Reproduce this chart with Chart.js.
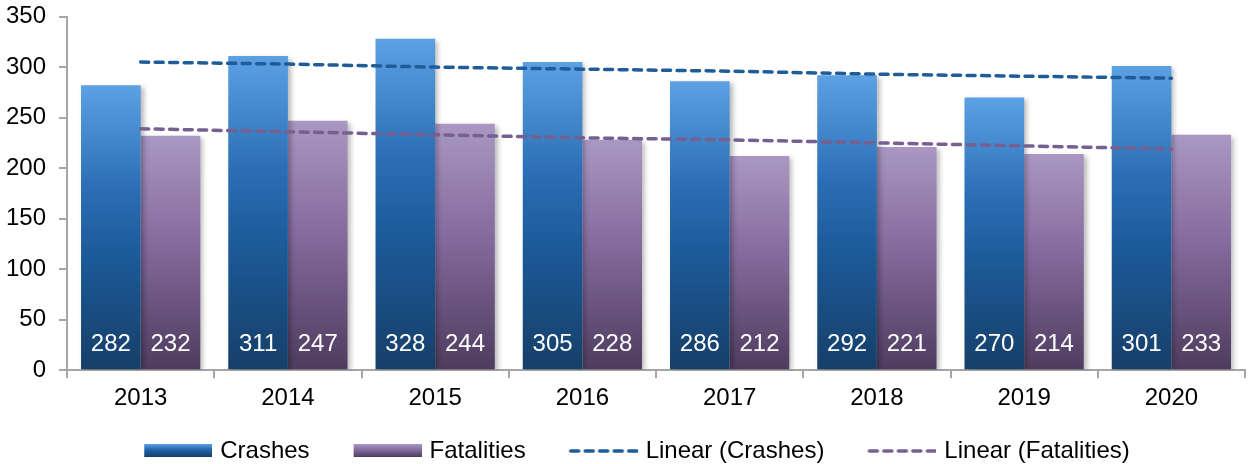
<!DOCTYPE html>
<html>
<head>
<meta charset="utf-8">
<script src="https://cdn.jsdelivr.net/npm/chart.js@4.4.0/dist/chart.umd.min.js"></script>
<style>
  html, body { margin: 0; padding: 0; background: #fff; }
  #wrap { width: 1249px; height: 464px; }
</style>
</head>
<body>
<div id="wrap"><canvas id="grafica"></canvas></div>
<script>
var anios = ["2013", "2014", "2015", "2016", "2017", "2018", "2019", "2020"]
var choques = [282, 311, 328, 305, 286, 292, 270, 301]
var muertes = [232, 247, 244, 228, 212, 221, 214, 233]
// linear trend lines
var tendenciaChoques = [305, 303, 300, 298, 296, 293, 291, 289]
var tendenciaMuertes = [239, 236, 233, 230, 228, 225, 222, 219]
var ticksY = [0, 50, 100, 150, 200, 250, 300, 350]

var fuente = "'Liberation Sans', Arial, sans-serif"
var colorEje = "#A6A6A6"

var paradasAzul = [[0, "#5CA1E4"], [0.35, "#2C6FB6"], [0.6, "#1C5A99"], [1, "#163F68"]]
var paradasMorado = [[0, "#AA97C3"], [0.45, "#856B9E"], [1, "#4E3C5E"]]

function gradienteBarra(paradas) {
    return function (context) {
        var chart = context.chart
        if (!chart.chartArea || context.type !== "data") return paradas[1][1]
        var y = chart.scales.y
        var top = y.getPixelForValue(context.raw)
        var base = y.getPixelForValue(0)
        var g = chart.ctx.createLinearGradient(0, top, 0, base)
        paradas.forEach(function (p) { g.addColorStop(p[0], p[1]) })
        return g
    }
}

// small canvases used as legend symbols
function cajaLeyenda(paradas) {
    var c = document.createElement("canvas")
    c.width = 96; c.height = 14
    var cx = c.getContext("2d")
    var g = cx.createLinearGradient(0, 0, 0, 13)
    paradas.forEach(function (p) { g.addColorStop(p[0], p[1]) })
    cx.fillStyle = g
    cx.fillRect(28, 0, 68, 13)
    return c
}

function lineaLeyenda(color) {
    var c = document.createElement("canvas")
    c.width = 96; c.height = 14
    var cx = c.getContext("2d")
    cx.strokeStyle = color
    cx.lineWidth = 3.5
    cx.lineCap = "round"
    cx.setLineDash([8, 6.5])
    cx.beginPath()
    cx.moveTo(29, 7)
    cx.lineTo(96, 7)
    cx.stroke()
    return c
}

var simbolos = [cajaLeyenda(paradasAzul), cajaLeyenda(paradasMorado), lineaLeyenda("#1F5C99"), lineaLeyenda("#76608F")]

var sombraBarras = {
    id: "sombraBarras",
    beforeDatasetDraw: function (chart, args) {
        if (args.meta.type === "bar") {
            chart.ctx.save()
            chart.ctx.shadowColor = "rgba(0,0,0,0.28)"
            chart.ctx.shadowBlur = 5
            chart.ctx.shadowOffsetX = 3
            chart.ctx.shadowOffsetY = 2
        }
    },
    afterDatasetDraw: function (chart, args) {
        if (args.meta.type === "bar") chart.ctx.restore()
    }
}

// nudge the legend a few pixels to the right, like the original
var moverLeyenda = {
    id: "moverLeyenda",
    afterLayout: function (chart) {
        chart.legend.left += 6
        chart.legend.right += 6
    }
}

var etiquetasValores = {
    id: "etiquetasValores",
    afterDatasetsDraw: function (chart) {
        var ctx = chart.ctx
        ctx.save()
        ctx.fillStyle = "#ffffff"
        ctx.font = "24px " + fuente
        ctx.textAlign = "center"
        ctx.textBaseline = "middle"
        chart.data.datasets.forEach(function (ds, i) {
            if (ds.type !== "bar") return
            var meta = chart.getDatasetMeta(i)
            meta.data.forEach(function (barra, j) {
                ctx.fillText(String(ds.data[j]), barra.x, barra.base - 25)
            })
        })
        ctx.restore()
    }
}

var ctx = document.getElementById("grafica").getContext("2d")

new Chart(ctx, {
    data: {
        labels: anios,
        datasets: [{
            type: "bar",
            label: "Crashes",
            data: choques,
            backgroundColor: gradienteBarra(paradasAzul),
            categoryPercentage: 0.81,
            barPercentage: 1.0,
            order: 2
        }, {
            type: "bar",
            label: "Fatalities",
            data: muertes,
            backgroundColor: gradienteBarra(paradasMorado),
            categoryPercentage: 0.81,
            barPercentage: 1.0,
            order: 2
        }, {
            type: "line",
            label: "Linear (Crashes)",
            data: tendenciaChoques,
            borderColor: "#1F5C99",
            borderWidth: 3.5,
            borderDash: [8, 6.5],
            borderCapStyle: "round",
            pointRadius: 0,
            fill: false,
            order: 1
        }, {
            type: "line",
            label: "Linear (Fatalities)",
            data: tendenciaMuertes,
            borderColor: "#76608F",
            borderWidth: 3.5,
            borderDash: [8, 6.5],
            borderCapStyle: "round",
            pointRadius: 0,
            fill: false,
            order: 1
        }]
    },
    options: {
        responsive: true,
        maintainAspectRatio: false,
        animation: false,
        layout: { padding: { top: 0, left: -7, right: 4, bottom: -9 } },
        scales: {
            x: {
                grid: { display: true, drawOnChartArea: false, drawTicks: true, tickLength: 8, color: colorEje, lineWidth: 2 },
                border: { display: true, color: colorEje, width: 2 },
                ticks: { color: "#000", font: { family: fuente, size: 24 }, padding: 6 }
            },
            y: {
                min: 0,
                max: 350,
                afterBuildTicks: function (axis) {
                    axis.ticks = ticksY.map(function (v) { return { value: v } })
                },
                grid: { display: true, drawOnChartArea: false, drawTicks: true, tickLength: 8, color: colorEje, lineWidth: 2 },
                border: { display: true, color: colorEje, width: 2 },
                ticks: { color: "#000", font: { family: fuente, size: 24, lineHeight: 0.3 }, padding: 13 }
            }
        },
        plugins: {
            tooltip: { enabled: false },
            legend: {
                position: "bottom",
                labels: {
                    color: "#000",
                    font: { family: fuente, size: 24 },
                    usePointStyle: true,
                    pointStyleWidth: 88,
                    padding: 20,
                    generateLabels: function (chart) {
                        return chart.data.datasets.map(function (ds, i) {
                            return {
                                text: ds.label,
                                pointStyle: simbolos[i],
                                fillStyle: "transparent",
                                strokeStyle: "transparent",
                                lineWidth: 0,
                                hidden: false,
                                datasetIndex: i,
                                fontColor: "#000"
                            }
                        })
                    }
                }
            }
        }
    },
    plugins: [sombraBarras, moverLeyenda, etiquetasValores]
});
</script>
</body>
</html>
